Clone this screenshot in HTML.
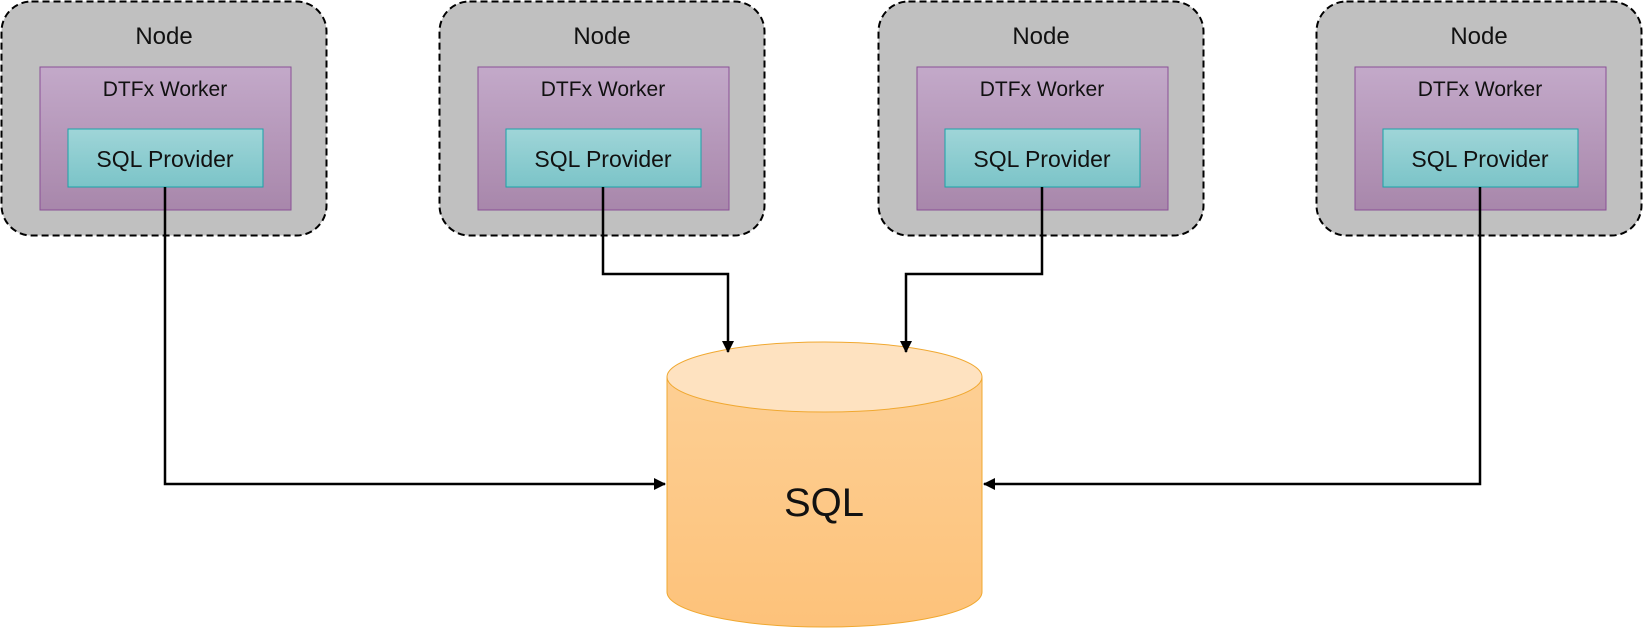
<!DOCTYPE html>
<html><head><style>
body{margin:0;background:#fff;}
svg text{font-family:"Liberation Sans",sans-serif;fill:#111;text-anchor:middle;}
</style></head><body>
<svg width="1644" height="628" viewBox="0 0 1644 628" xmlns="http://www.w3.org/2000/svg">
<defs>
<linearGradient id="pg" x1="0" y1="0" x2="0" y2="1"><stop offset="0" stop-color="#c3a9c9"/><stop offset="1" stop-color="#a887ab"/></linearGradient>
<linearGradient id="tg" x1="0" y1="0" x2="0" y2="1"><stop offset="0" stop-color="#9fd5d8"/><stop offset="1" stop-color="#7bc4c8"/></linearGradient>
<linearGradient id="og" x1="0" y1="0" x2="0" y2="1"><stop offset="0" stop-color="#fdcf94"/><stop offset="1" stop-color="#fdc27a"/></linearGradient>
<marker id="a" markerWidth="12" markerHeight="12" refX="11" refY="6" orient="auto" markerUnits="userSpaceOnUse"><path d="M0,0 L12,6 L0,12 Z" fill="#000"/></marker>
</defs>
<g id="n">
<rect x="1.5" y="1.5" width="325" height="234" rx="30" fill="#c0c0c0" stroke="#000" stroke-width="2" stroke-dasharray="7,4"/>
<text x="164" y="44" font-size="24">Node</text>
<rect x="40" y="67" width="251" height="143" fill="url(#pg)" stroke="#8a4f96" stroke-width="1"/>
<text x="165" y="96" font-size="21">DTFx Worker</text>
<rect x="68" y="129" width="195" height="58" fill="url(#tg)" stroke="#1aa3a8" stroke-width="1"/>
<text x="165" y="167" font-size="23">SQL Provider</text>
</g>
<use href="#n" x="438"/>
<use href="#n" x="877"/>
<use href="#n" x="1315"/>
<path d="M667,377 L667,592 A157.5,35 0 0 0 982,592 L982,377 Z" fill="url(#og)" stroke="#f0a830" stroke-width="1"/>
<ellipse cx="824.5" cy="377" rx="157.5" ry="35" fill="#fee2c0" stroke="#f0a830" stroke-width="1"/>
<text x="824" y="516" font-size="40">SQL</text>
<g fill="none" stroke="#000" stroke-width="2.5">
<path d="M165,187 V484 H665" marker-end="url(#a)"/>
<path d="M603,187 V274 H728 V352" marker-end="url(#a)"/>
<path d="M1042,187 V274 H906 V352" marker-end="url(#a)"/>
<path d="M1480,187 V484 H984" marker-end="url(#a)"/>
</g>
</svg>
</body></html>
